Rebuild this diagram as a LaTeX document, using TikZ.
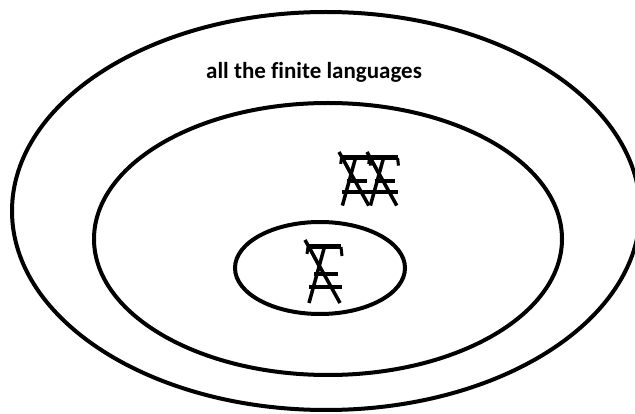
\documentclass[tikz,border=0pt]{standalone}
\usepackage{fontspec}
\setmainfont[Ligatures=NoCommon]{Carlito}
\begin{document}
\begin{tikzpicture}[x=1pt,y=-1pt,
  ring/.style={draw=black,line width=4pt},
  label/.style={font=\bfseries\fontsize{23}{26}\selectfont,inner sep=0pt},
  glyph/.pic={
    \begin{scope}[line cap=butt]
      \draw[line width=5pt] (3,7) -- (36,7);
      \draw[line width=3pt] (3,7) -- (2,14);
      \draw[line width=3pt] (36,7) -- (37,16);
      \draw[line width=4pt] (9,34) -- (33,34);
      \draw[line width=4pt] (4,47) -- (37,47);
      \draw[line width=3.5pt] (0,0) -- (35,63);
      \draw[line width=3.5pt] (20,5) -- (4,63);
      \draw[line width=3pt] (3,5) -- (16,30);
    \end{scope}
  }]
\useasboundingbox (0,0) rectangle (635,414);
\clip (0,0) rectangle (635,414);
\fill[white] (0,0) rectangle (635,414);
\draw[ring] (326,211) ellipse [x radius=314, y radius=199];
\draw[ring] (328,239) ellipse [x radius=234, y radius=136];
\draw[ring] (320,268) ellipse [x radius=85, y radius=46];
\node[label] (t) at (314,72) {all the finite languages};
\pic at (305,240) {glyph};
\pic[scale=0.85] at (339,152) {glyph};
\pic[scale=0.85] at (367,152) {glyph};
\end{tikzpicture}
\end{document}
